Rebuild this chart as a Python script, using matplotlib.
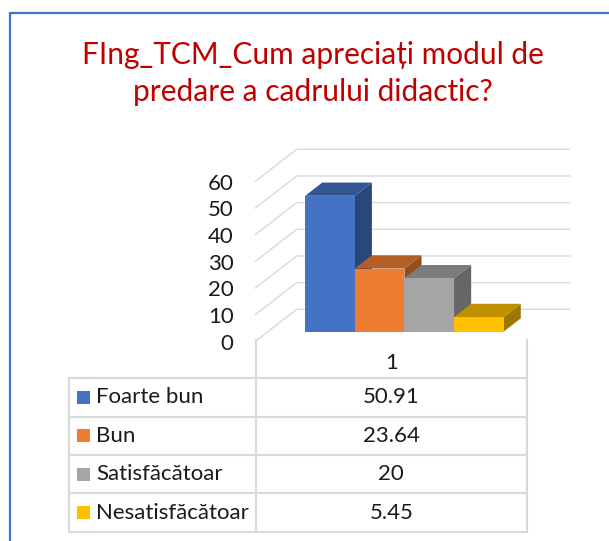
import matplotlib
matplotlib.use("Agg")
import matplotlib.pyplot as plt
from matplotlib.patches import Polygon, Rectangle
from matplotlib.colors import to_rgb

plt.rcParams['font.family'] = ['Lato', 'DejaVu Sans']

# data
title_lines = ["FIng_TCM_Cum apreciați modul de", "predare a cadrului didactic?"]
categories = ["1"]
series_names = ["Foarte bun", "Bun", "Satisfăcătoar", "Nesatisfăcătoar"]
values = [50.91, 23.64, 20, 5.45]
y_ticks = [0, 10, 20, 30, 40, 50, 60]
colors = ["#4472C4", "#ED7D31", "#A5A5A5", "#FFC000"]

W, H, DPI = 609, 541, 100
fig = plt.figure(figsize=(W / DPI, H / DPI), dpi=DPI)
fig.patch.set_facecolor("white")

# chart border (cut at right and bottom)
fig.add_artist(Rectangle((10 / W, -0.2), 1.5, 1.2 - 13 / H, transform=fig.transFigure,
                         fill=False, edgecolor="#4472C4", linewidth=1.6))

# title
for k, line in enumerate(title_lines):
    fig.text(312.5 / W, 1 - (64 + 37.4 * k) / H, line, ha="center", va="baseline",
             fontsize=21.5, color="#C00000")

text_c = "#1A1A1A"
fs = 16

# 3d-ish column area, front plane: x 0..1 spans 273 px, 10 units = 26.67 px
PX_X, PX_V = 273.0, 2.667
left_px, bottom_px, right_px, top_px = 255.0, 341.6, 580.0, 140.0
ax = fig.add_axes([left_px / W, 1 - bottom_px / H, (right_px - left_px) / W, (bottom_px - top_px) / H])
ax.set_xlim(0, (right_px - left_px) / PX_X)
ax.set_ylim(0, (bottom_px - top_px) / PX_V)
ax.set_facecolor("none")
for s in ax.spines.values():
    s.set_visible(False)
ax.set_xticks([])
ax.set_yticks(y_ticks)
ax.set_yticklabels([str(t) for t in y_ticks], fontsize=fs, color=text_c)
ax.tick_params(axis="y", length=0, pad=15.5)

DX = 41.7 / PX_X
DV = 32.3 / PX_V


def proj(x, v, z):
    return (x + z * DX, v + z * DV)


grid_c = "#D9D9D9"
for v in y_ticks:
    pts = [proj(0, v, 0), proj(0, v, 1), proj(1, v, 1)]
    ax.plot([p[0] for p in pts], [p[1] for p in pts], color=grid_c, lw=1.0, zorder=1)


def shade(c, f):
    r, g, b = to_rgb(c)
    return (r * f, g * f, b * f)


n = len(values)
w = 1.0 / (n + 1.5)
start = 0.75 * w
z0, z1 = 0.31, 0.72
for i, (val, c) in enumerate(zip(values, colors)):
    x0 = start + i * w
    x1 = x0 + w
    side = [proj(x1, 0, z0), proj(x1, 0, z1), proj(x1, val, z1), proj(x1, val, z0)]
    top = [proj(x0, val, z0), proj(x1, val, z0), proj(x1, val, z1), proj(x0, val, z1)]
    front = [proj(x0, 0, z0), proj(x1, 0, z0), proj(x1, val, z0), proj(x0, val, z0)]
    ax.add_patch(Polygon(side, closed=True, facecolor=shade(c, 0.62), edgecolor="none", zorder=3 + i))
    ax.add_patch(Polygon(top, closed=True, facecolor=shade(c, 0.75), edgecolor="none", zorder=3 + i))
    ax.add_patch(Polygon(front, closed=True, facecolor=c, edgecolor="none", zorder=3 + i))

# data table, laid out in pixel units
tax = fig.add_axes([0, 0, 1, 1])
tax.set_xlim(0, W)
tax.set_ylim(H, 0)
tax.axis("off")
tax.set_zorder(-1)

line_c = "#D9D9D9"
col_l, col_m, col_r = 69.0, 255.5, 527.0
head_top, row_top, row_h = 340.0, 378.3, 38.35
tax.plot([col_m, col_m], [head_top, row_top], color=line_c, lw=1.5)
tax.plot([col_r, col_r], [head_top, row_top], color=line_c, lw=1.5)
tax.text((col_m + col_r) / 2, (head_top + row_top) / 2 + 4, categories[0], ha="center", va="center",
         fontsize=fs, color=text_c)
n_rows = len(series_names)
for r in range(n_rows + 1):
    y = row_top + r * row_h
    tax.plot([col_l, col_r], [y, y], color=line_c, lw=1.5)
for x in (col_l, col_m, col_r):
    tax.plot([x, x], [row_top, row_top + n_rows * row_h], color=line_c, lw=1.5)
for r, (name, val, c) in enumerate(zip(series_names, values, colors)):
    yc = row_top + (r + 0.5) * row_h
    tax.add_patch(Rectangle((77.3, yc - 6.5), 13, 13, facecolor=c, edgecolor="none"))
    tax.text(96.5, yc, name, ha="left", va="center", fontsize=fs, color=text_c)
    tax.text((col_m + col_r) / 2, yc, f"{val:g}", ha="center", va="center", fontsize=fs, color=text_c)

fig.savefig("out.png", dpi=DPI)
